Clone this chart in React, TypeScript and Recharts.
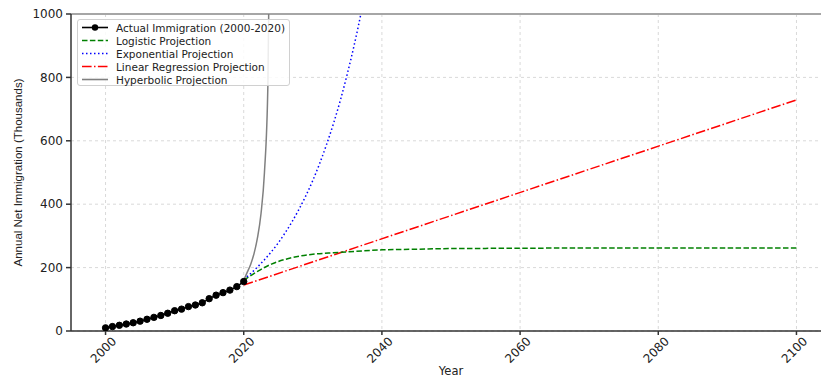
import { LineChart, Line, XAxis, YAxis, CartesianGrid, ReferenceLine } from "recharts";

// actual net immigration, thousands per year
const actualYears = [2000, 2001, 2002, 2003, 2004, 2005, 2006, 2007, 2008, 2009, 2010, 2011, 2012, 2013, 2014, 2015, 2016, 2017, 2018, 2019, 2020];
const actualValues = [10, 14, 18, 22, 26, 31, 37, 43, 49, 56, 64, 69, 77, 82, 89, 102, 113, 121, 129, 140, 156];

const logisticYears = [2020, 2022, 2024, 2026, 2028, 2030, 2033, 2036, 2040, 2045, 2050, 2060, 2070, 2080, 2100];
const logisticValues = [160, 188, 211, 226, 236, 242, 247, 251, 256, 258, 260, 261, 262, 262, 262];

const exponentialYears = [2020, 2021, 2022, 2023, 2024, 2025, 2026, 2027, 2028, 2029, 2030, 2031, 2032, 2033, 2034, 2035, 2036, 2037, 2038];
const exponentialValues = [163, 181, 202, 225, 250, 278, 310, 345, 384, 427, 475, 529, 589, 655, 729, 812, 903, 1005, 1119];

const linearYears = [2020, 2100];
const linearValues = [145, 729];

const hyperbolicYears = [2020, 2020.5, 2021, 2021.5, 2022, 2022.5, 2023, 2023.5, 2024];
const hyperbolicValues = [160, 185, 210, 245, 295, 370, 500, 780, 1760];

const xTicks = [2000, 2020, 2040, 2060, 2080, 2100];
const yTicks = [0, 200, 400, 600, 800, 1000];

const toRows = (years: number[], values: number[]) => years.map((year, i) => ({ year, value: values[i] }));

const actualData = toRows(actualYears, actualValues);
const logisticData = toRows(logisticYears, logisticValues);
const exponentialData = toRows(exponentialYears, exponentialValues);
const linearData = toRows(linearYears, linearValues);
const hyperbolicData = toRows(hyperbolicYears, hyperbolicValues);

const FONT = "'DejaVu Sans', sans-serif";
const LABEL_FONT = "'Liberation Sans Narrow', 'Liberation Sans', sans-serif";

const legendItems = [
  { label: "Actual Immigration (2000-2020)", color: "#000000", dash: undefined, marker: true },
  { label: "Logistic Projection", color: "green", dash: "5.5 2.4", marker: false },
  { label: "Exponential Projection", color: "blue", dash: "1.5 2.5", marker: false },
  { label: "Linear Regression Projection", color: "red", dash: "9.6 2.4 1.5 2.4", marker: false },
  { label: "Hyperbolic Projection", color: "gray", dash: undefined, marker: false },
];

const XTick = (props: any) => {
  const { x, y, payload } = props;
  const cx = x - 2;
  const cy = y + 13;
  return (
    <text
      x={cx}
      y={cy}
      textAnchor="middle"
      dominantBaseline="central"
      transform={`rotate(-45 ${cx} ${cy})`}
      fontSize={12}
      fontFamily={FONT}
      fill="#222"
    >
      {payload.value}
    </text>
  );
};

const YLabel = (props: any) => {
  const { viewBox } = props;
  const x = viewBox.x + 18;
  const y = viewBox.y + viewBox.height / 2;
  return (
    <text x={x} y={y} textAnchor="middle" dominantBaseline="central" transform={`rotate(-90 ${x} ${y})`} fontSize={11.5} fontFamily={LABEL_FONT} fill="#222">
      Annual Net Immigration (Thousands)
    </text>
  );
};

const XLabel = (props: any) => {
  const { viewBox } = props;
  const x = 451;
  const y = viewBox.y + 40;
  return (
    <text x={x} y={y} textAnchor="middle" dominantBaseline="central" fontSize={11.5} fontFamily={FONT} fill="#222">
      Year
    </text>
  );
};

const LegendBox = () => (
  <div
    style={{
      position: "absolute",
      left: 77,
      top: 19,
      width: 213,
      height: 67,
      boxSizing: "border-box",
      border: "1px solid #d0d0d0",
      borderRadius: 3,
      background: "rgba(255,255,255,0.85)",
      fontFamily: FONT,
      fontSize: 10.5,
      color: "#222",
    }}
  >
    {legendItems.map((item, i) => (
      <div key={item.label} style={{ position: "absolute", left: 3, top: 1 + i * 13, height: 13, display: "flex", alignItems: "center", whiteSpace: "nowrap" }}>
        <svg width={28} height={13} style={{ display: "block" }}>
          <line x1={1} y1={6.5} x2={27} y2={6.5} stroke={item.color} strokeWidth={1.6} strokeDasharray={item.dash} />
          {item.marker && <circle cx={14} cy={6.5} r={3.2} fill="#000" />}
        </svg>
        <span style={{ marginLeft: 7 }}>{item.label}</span>
      </div>
    ))}
  </div>
);

export default function App() {
  return (
    <div style={{ position: "absolute", left: 0, top: 0, width: 821, height: 377, overflow: "hidden", background: "#fff" }}>
      <LineChart width={835} height={377} margin={{ top: 14, right: 4, bottom: 0, left: 0 }}>
        <CartesianGrid stroke="#d9d9d9" strokeDasharray="3 3" horizontalValues={yTicks} verticalValues={xTicks} />
        <XAxis
          type="number"
          dataKey="year"
          domain={[1995, 2105]}
          ticks={xTicks}
          allowDataOverflow
          height={46}
          tickSize={4}
          tickMargin={2}
          tick={<XTick />}
          stroke="#333"
          strokeWidth={1.5}
          label={<XLabel />}
        />
        <YAxis
          type="number"
          domain={[0, 1000]}
          ticks={yTicks}
          allowDataOverflow
          width={71}
          tickSize={5}
          tickMargin={3}
          tick={{ fontSize: 12, fill: "#222", fontFamily: FONT }}
          stroke="#333"
          strokeWidth={1.5}
          label={<YLabel />}
        />
        <ReferenceLine y={1000} stroke="#a6a6a6" strokeWidth={2} />
        <Line data={linearData} dataKey="value" type="linear" stroke="red" strokeWidth={1.5} strokeDasharray="9.6 2.4 1.5 2.4" dot={false} isAnimationActive={false} />
        <Line data={logisticData} dataKey="value" type="monotone" stroke="green" strokeWidth={1.5} strokeDasharray="5.5 2.4" dot={false} isAnimationActive={false} />
        <Line data={exponentialData} dataKey="value" type="monotone" stroke="blue" strokeWidth={1.5} strokeDasharray="1.5 2.5" dot={false} isAnimationActive={false} />
        <Line data={hyperbolicData} dataKey="value" type="monotone" stroke="gray" strokeWidth={1.5} dot={false} isAnimationActive={false} />
        <Line data={actualData} dataKey="value" type="linear" stroke="#000" strokeWidth={1.5} dot={{ r: 3.2, fill: "#000", stroke: "#000", strokeWidth: 1 }} isAnimationActive={false} />
      </LineChart>
      <LegendBox />
    </div>
  );
}
